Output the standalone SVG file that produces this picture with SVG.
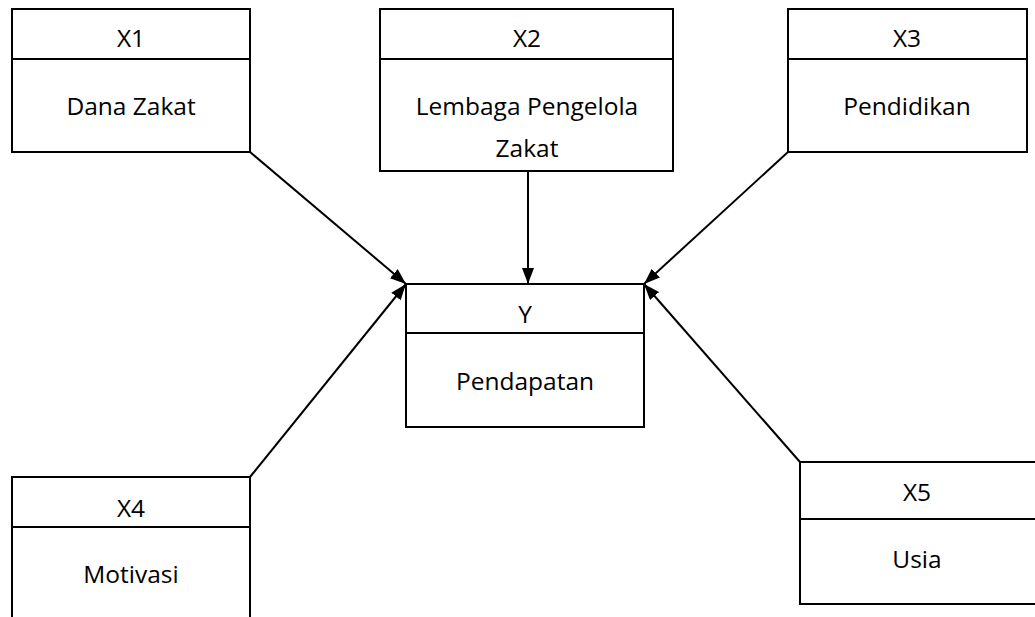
<svg xmlns="http://www.w3.org/2000/svg" width="1035" height="617" viewBox="0 0 1035 617">
<style>
.box{fill:#fff;stroke:#000;stroke-width:2}
.div{stroke:#000;stroke-width:2}
.t{font-family:"Open Sans","Noto Sans",sans-serif;font-size:24.5px;fill:#000;text-anchor:middle}
.c{stroke:#000;stroke-width:2;fill:none;marker-end:url(#ah)}
</style>
<defs>
<marker id="ah" viewBox="0 0 16 12" refX="16" refY="6" markerWidth="16" markerHeight="12" markerUnits="userSpaceOnUse" orient="auto">
<path d="M0,0 L16,6 L0,12 z" fill="#000"/>
</marker>
</defs>
<rect width="1035" height="617" fill="#fff"/>
<g id="connectors">
<line class="c" x1="250" y1="152" x2="406" y2="284"/>
<line class="c" x1="528" y1="171" x2="528" y2="284"/>
<line class="c" x1="788" y1="152" x2="644" y2="284"/>
<line class="c" x1="250" y1="477" x2="406" y2="284"/>
<line class="c" x1="800" y1="462" x2="644" y2="284"/>
</g>
<g id="x1">
<rect class="box" x="12" y="9" width="238" height="143"/>
<line class="div" x1="12" y1="59" x2="250" y2="59"/>
<text class="t" x="131" y="47">X1</text>
<text class="t" x="131" y="115">Dana Zakat</text>
</g>
<g id="x2">
<rect class="box" x="380" y="9" width="293" height="162"/>
<line class="div" x1="380" y1="59" x2="673" y2="59"/>
<text class="t" x="527" y="47">X2</text>
<text class="t" x="527" y="115">Lembaga Pengelola</text>
<text class="t" x="527" y="157">Zakat</text>
</g>
<g id="x3">
<rect class="box" x="788" y="9" width="239" height="143"/>
<line class="div" x1="788" y1="59" x2="1027" y2="59"/>
<text class="t" x="907" y="47">X3</text>
<text class="t" x="907" y="115">Pendidikan</text>
</g>
<g id="y">
<rect class="box" x="406" y="284" width="238" height="143"/>
<line class="div" x1="406" y1="333" x2="644" y2="333"/>
<text class="t" x="525" y="323">Y</text>
<text class="t" x="525" y="390">Pendapatan</text>
</g>
<g id="x4">
<rect class="box" x="12" y="477" width="238" height="160"/>
<line class="div" x1="12" y1="527" x2="250" y2="527"/>
<text class="t" x="131" y="517">X4</text>
<text class="t" x="131" y="583">Motivasi</text>
</g>
<g id="x5">
<rect class="box" x="800" y="462" width="250" height="142"/>
<line class="div" x1="800" y1="519" x2="1050" y2="519"/>
<text class="t" x="917" y="501">X5</text>
<text class="t" x="917" y="568">Usia</text>
</g>
</svg>
